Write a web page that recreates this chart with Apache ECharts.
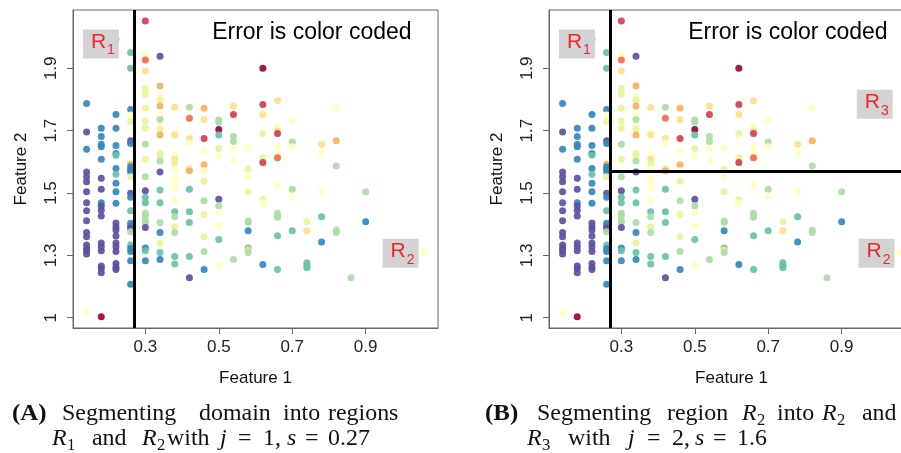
<!DOCTYPE html>
<html>
<head>
<meta charset="utf-8">
<script src="https://cdn.jsdelivr.net/npm/echarts@6/dist/echarts.min.js"></script>
<style>html,body{margin:0;padding:0;background:#fff}#c{width:901px;height:453px}</style>
</head>
<body>
<div id="c"></div>
<script>
// Spectral palette, error class 0 (low) .. 10 (high)
const palette = ['#5E4FA2','#3288BD','#66C2A5','#ABDDA4','#E6F598','#FFFFBF','#FEE08B','#FDAE61','#F46D43','#D53E4F','#9E0142'];

// Feature 1 column values and the points of each column: [Feature 2, error class]
const columnX = [0.14,0.18,0.22,0.26,0.30,0.34,0.38,0.42,0.46,0.50,0.54,0.58,0.62,0.66,0.70,0.74,0.78,0.82,0.86,0.90,1.06];
const col014 = [[1.787,1],[1.696,0],[1.640,1],[1.567,0],[1.552,0],[1.536,0],[1.504,0],[1.469,0],[1.443,0],[1.411,0],[1.373,0],[1.360,0],[1.333,0],[1.322,0],[1.315,0],[1.304,0],[1.116,5]];
const col018 = [[1.708,1],[1.681,1],[1.656,1],[1.648,1],[1.608,1],[1.547,0],[1.512,0],[1.469,1],[1.458,0],[1.445,0],[1.426,0],[1.340,0],[1.328,0],[1.315,0],[1.266,0],[1.258,0],[1.244,0],[1.103,10]];
const col022 = [[1.993,2],[1.752,1],[1.708,1],[1.652,1],[1.627,1],[1.621,2],[1.579,1],[1.560,2],[1.531,1],[1.504,1],[1.467,1],[1.404,0],[1.392,0],[1.381,0],[1.362,0],[1.340,0],[1.328,0],[1.312,0],[1.274,0],[1.262,0],[1.255,0]];
const col026 = [[1.951,2],[1.900,2],[1.768,1],[1.750,5],[1.729,4],[1.668,0],[1.659,1],[1.592,7],[1.584,1],[1.576,1],[1.568,1],[1.552,4],[1.499,0],[1.486,1],[1.443,2],[1.403,1],[1.394,1],[1.387,0],[1.376,3],[1.333,2],[1.322,1],[1.312,1],[1.283,1],[1.207,1]];
const col030 = [[2.052,9],[1.945,5],[1.927,8],[1.891,6],[1.836,4],[1.817,4],[1.772,4],[1.731,4],[1.708,4],[1.656,3],[1.608,4],[1.552,3],[1.507,0],[1.486,2],[1.469,2],[1.435,3],[1.426,3],[1.411,3],[1.405,3],[1.389,0],[1.324,1],[1.315,2],[1.283,1]];
const col034 = [[1.939,0],[1.843,7],[1.811,5],[1.798,4],[1.779,7],[1.750,5],[1.736,3],[1.713,5],[1.704,4],[1.686,7],[1.627,4],[1.622,4],[1.603,3],[1.567,0],[1.510,2],[1.469,2],[1.405,3],[1.373,1],[1.340,4],[1.309,2],[1.287,1]];
const col038 = [[1.775,6],[1.693,5],[1.686,6],[1.622,5],[1.608,6],[1.595,4],[1.576,5],[1.547,5],[1.538,5],[1.515,5],[1.476,5],[1.440,2],[1.424,3],[1.392,4],[1.373,3],[1.296,2],[1.272,2]];
const col042 = [[1.775,3],[1.740,8],[1.675,6],[1.661,5],[1.579,4],[1.571,7],[1.512,2],[1.440,2],[1.405,2],[1.296,2],[1.228,0]];
const col046 = [[1.772,7],[1.736,6],[1.675,9],[1.638,5],[1.591,7],[1.571,5],[1.538,4],[1.475,3],[1.431,4],[1.360,4],[1.312,3],[1.255,1]];
const col050 = [[1.734,3],[1.727,3],[1.704,10],[1.686,2],[1.643,4],[1.616,5],[1.480,0],[1.459,3],[1.437,5],[1.395,5],[1.351,2],[1.268,5]];
const col054 = [[1.779,6],[1.752,9],[1.681,3],[1.665,3],[1.643,5],[1.604,5],[1.287,3]];
const col058 = [[1.644,5],[1.576,4],[1.552,5],[1.504,4],[1.410,3],[1.405,3],[1.379,1],[1.324,2],[1.317,6],[1.309,3]];
const col062 = [[1.900,10],[1.784,9],[1.752,6],[1.691,4],[1.613,4],[1.598,9],[1.478,4],[1.469,5],[1.465,5],[1.271,1]];
const col066 = [[1.796,6],[1.715,5],[1.700,6],[1.691,9],[1.648,5],[1.624,5],[1.613,8],[1.524,5],[1.435,3],[1.427,3],[1.422,3],[1.363,2],[1.255,2]];
const col070 = [[1.732,5],[1.664,3],[1.648,5],[1.512,3],[1.486,5],[1.379,2]];
const col074 = [[1.408,4],[1.379,6],[1.276,2],[1.268,2],[1.260,2]];
const col078 = [[1.656,6],[1.631,5],[1.504,5],[1.424,2],[1.343,1]];
const col082 = [[1.772,5],[1.668,7],[1.587,3],[1.381,3],[1.373,3]];
const col086 = [[1.228,3]];
const col090 = [[1.504,3],[1.408,1]];
const col106 = [[1.309,5]];
const columns = [col014,col018,col022,col026,col030,col034,col038,col042,col046,col050,col054,col058,col062,col066,col070,col074,col078,col082,col086,col090,col106];

// Axes
const xTicks = [0.3,0.5,0.7,0.9];
const xTickLabels = ['0.3','0.5','0.7','0.9'];
const yTicks = [1.1,1.3,1.5,1.7,1.9];
const yTickLabels = ['1','1.3','1.5','1.7','1.9'];
const xRange = [0.103,1.097];
const yRange = [1.067,2.087];

// Splits
const splitA = {j:1, s:0.27};
const splitB = {j:2, s:1.57};

// Region labels [name, subscript, Feature 1, Feature 2]
const regionsA = [['R','1',0.179,1.978],['R','2',0.995,1.307]];
const regionsB = [['R','1',0.179,1.978],['R','2',0.995,1.307],['R','3',0.990,1.785]];
const titleText = 'Error is color coded';

const points = [];
columns.forEach((col,i)=>col.forEach(p=>points.push([columnX[i],p[0],p[1]])));

const sans = 'Liberation Sans';
const serif = 'Liberation Serif';
const chart = echarts.init(document.getElementById('c'), null, {renderer:'canvas'});

function xAxis(gi){
  return {gridIndex:gi,type:'value',min:xRange[0],max:xRange[1],
    name:'Feature 1',nameLocation:'middle',nameGap:42,
    nameTextStyle:{fontFamily:sans,fontSize:17,color:'#111'},
    axisLine:{show:true,onZero:false,lineStyle:{color:'#666',width:1}},
    axisTick:{show:true,length:6,inside:false,customValues:xTicks,lineStyle:{color:'#666'}},
    axisLabel:{customValues:xTicks,margin:11,fontFamily:sans,fontSize:17,color:'#222',
      formatter:v=>xTickLabels[xTicks.findIndex(t=>Math.abs(t-v)<1e-6)]},
    splitLine:{show:false}};
}
function yAxis(gi){
  return {gridIndex:gi,type:'value',min:yRange[0],max:yRange[1],
    name:'Feature 2',nameLocation:'middle',nameGap:43,nameRotate:90,
    nameTextStyle:{fontFamily:sans,fontSize:17,color:'#111'},
    axisLine:{show:true,onZero:false,lineStyle:{color:'#666',width:1}},
    axisTick:{show:true,length:6,inside:false,customValues:yTicks,lineStyle:{color:'#666'}},
    axisLabel:{customValues:yTicks,rotate:90,margin:13,fontFamily:sans,fontSize:17,color:'#222',
      formatter:v=>yTickLabels[yTicks.findIndex(t=>Math.abs(t-v)<1e-6)]},
    splitLine:{show:false}};
}
function scatter(gi, lines){
  return {type:'scatter',xAxisIndex:gi,yAxisIndex:gi,symbolSize:7,data:points,
    itemStyle:{color:p=>palette[p.value[2]],opacity:0.92},
    z:2,
    markLine:{silent:true,symbol:'none',animation:false,label:{show:false},
      lineStyle:{color:'#000',width:3,type:'solid',opacity:1},data:lines}};
}
function regionSeries(gi, regs){
  return {type:'scatter',xAxisIndex:gi,yAxisIndex:gi,symbolSize:0,z:5,
    itemStyle:{opacity:1},
    data:regs.map(r=>({value:[r[2],r[3]],name:r[0],sub:r[1]})),
    label:{show:true,position:'inside',backgroundColor:'#D3D3D3',padding:[2,4,1,8],opacity:1,
      formatter:p=>'{r|'+p.data.name+'}{s|'+p.data.sub+'}',
      rich:{r:{fontFamily:sans,fontSize:21,color:'#F2232C',lineHeight:26,verticalAlign:'top'},
            s:{fontFamily:sans,fontSize:14,color:'#F2232C',lineHeight:22,verticalAlign:'bottom',padding:[9,0,0,1]}}}};
}
function titleSeries(gi){
  return {type:'scatter',xAxisIndex:gi,yAxisIndex:gi,symbolSize:0,z:5,data:[[1.025,2.087]],
    itemStyle:{opacity:1},
    label:{show:true,position:'inside',align:'right',verticalAlign:'top',offset:[0,11],opacity:1,
      formatter:titleText,fontFamily:sans,fontSize:23,color:'#000'}};
}

// Caption words: [text, left x, line (0/1), kind]
const capA = [['(A)',12,0,'b'],['Segmenting',62,0,'r'],['domain',199,0,'r'],['into',283,0,'r'],['regions',328,0,'r'],
  ['R',52,1,'i'],['1',67,1,'s'],['and',92,1,'r'],['R',142,1,'i'],['2',157,1,'s'],['with',167,1,'r'],['j',220,1,'i'],['=',238,1,'r'],['1,',263,1,'r'],['s',287,1,'i'],['=',305,1,'r'],['0.27',328,1,'r']];
const capB = [['(B)',485,0,'b'],['Segmenting',537,0,'r'],['region',667,0,'r'],['R',742,0,'i'],['2',757,0,'s'],['into',777,0,'r'],['R',822,0,'i'],['2',837,0,'s'],['and',862,0,'r'],
  ['R',527,1,'i'],['3',542,1,'s'],['with',568,1,'r'],['j',628,1,'i'],['=',647,1,'r'],['2,',672,1,'r'],['s',695,1,'i'],['=',713,1,'r'],['1.6',737,1,'r']];
const baselines = [422,447];
function capElem(w){
  const kind = w[3];
  const fs = kind==='b'?24:(kind==='s'?16:23);
  const base = baselines[w[2]] + (kind==='s'?4:0);
  return {type:'text',x:w[1],y:base-0.34*fs,scaleX:1.04,
    style:{text:w[0],fill:'#111',fontFamily:serif,fontSize:fs,
      fontWeight:kind==='b'?'bold':'normal',fontStyle:kind==='i'?'italic':'normal',
      align:'left',verticalAlign:'middle'}};
}

chart.setOption({
  animation:false,
  grid:[{left:73,top:10,width:365,height:318,show:true,borderColor:'#666',borderWidth:1,outerBoundsMode:'none',containLabel:false},
        {left:549,top:10,width:365,height:318,show:true,borderColor:'#666',borderWidth:1,outerBoundsMode:'none',containLabel:false}],
  xAxis:[xAxis(0),xAxis(1)],
  yAxis:[yAxis(0),yAxis(1)],
  series:[
    scatter(0,[{xAxis:splitA.s}]),
    scatter(1,[{xAxis:splitA.s},[{coord:[splitA.s,splitB.s]},{coord:[xRange[1],splitB.s]}]]),
    regionSeries(0,regionsA),
    regionSeries(1,regionsB),
    titleSeries(0),titleSeries(1)
  ],
  graphic:capA.concat(capB).map(capElem)
});
</script>
</body>
</html>
